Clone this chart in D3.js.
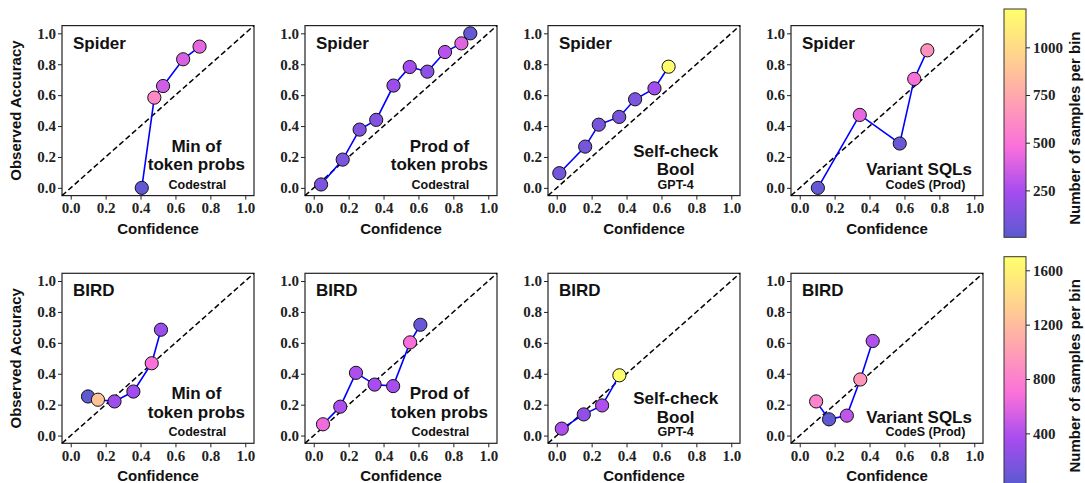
<!DOCTYPE html>
<html>
<head>
<meta charset="utf-8">
<script src="https://cdn.jsdelivr.net/npm/d3@7"></script>
<style>
  body { margin: 0; background: #fff; }
  .tick text { font-family: "Liberation Serif", serif; font-weight: bold; font-size: 15px; fill: #222; }
  .lbl { font-family: "Liberation Sans", Arial, sans-serif; font-weight: bold; fill: #111; }
</style>
</head>
<body>
<div id="chart"></div>
<script>
// ---- data ----
const rowNames = ["Spider", "BIRD"];
const methodNames = [["Min of", "token probs"], ["Prod of", "token probs"], ["Self-check", "Bool"], ["Variant SQLs"]];
const modelNames = ["Codestral", "Codestral", "GPT-4", "CodeS (Prod)"];

// confidence (x), observed accuracy (y), samples per bin — row 0 = Spider, row 1 = BIRD
const confidence = [
    [[0.407, 0.479, 0.529, 0.644, 0.738],
     [0.042, 0.166, 0.263, 0.358, 0.457, 0.55, 0.651, 0.752, 0.846, 0.897],
     [0.015, 0.163, 0.241, 0.358, 0.449, 0.56, 0.641],
     [0.104, 0.344, 0.573, 0.656, 0.731]],
    [[0.099, 0.156, 0.251, 0.359, 0.464, 0.517],
     [0.053, 0.152, 0.242, 0.349, 0.455, 0.552, 0.611],
     [0.029, 0.155, 0.26, 0.359],
     [0.094, 0.168, 0.27, 0.347, 0.418]]
];
const accuracy = [
    [[0.0, 0.584, 0.659, 0.832, 0.914],
     [0.022, 0.183, 0.377, 0.44, 0.662, 0.782, 0.752, 0.879, 0.935, 1.0],
     [0.095, 0.267, 0.409, 0.459, 0.573, 0.644, 0.784],
     [0.0, 0.472, 0.287, 0.705, 0.89]],
    [[0.253, 0.232, 0.221, 0.285, 0.468, 0.685],
     [0.073, 0.187, 0.406, 0.33, 0.32, 0.603, 0.717],
     [0.045, 0.137, 0.195, 0.39],
     [0.221, 0.105, 0.129, 0.363, 0.612]]
];
const counts = [
    [[30, 600, 360, 380, 420],
     [110, 110, 120, 130, 210, 240, 160, 290, 400, 40],
     [90, 90, 90, 100, 110, 230, 1190],
     [40, 430, 50, 480, 640]],
    [[40, 1250, 330, 330, 700, 300],
     [650, 380, 380, 360, 360, 680, 90],
     [380, 260, 380, 1690],
     [820, 50, 450, 950, 400]]
];
const countRange = [[4, 1201], [20, 1700]];
const colorbarTicks = [[250, 500, 750, 1000], [400, 800, 1200, 1600]];
const axisTicks = [0, 0.2, 0.4, 0.6, 0.8, 1.0];

// colormap stops (blue -> purple -> magenta -> pink -> peach -> yellow)
const cmapStops = ["#5a5ad0", "#a64cf0", "#fb70da", "#ffa2b0", "#ffd48c", "#ffff6a"];

// ---- layout ----
const W = 1085, H = 483;
const panel = {left: 62, step: 243, top: 25.6, rowStep: 247.7, width: 192, height: 170};
const cbar = {x: 1004, width: 22, top: 9, height: 228.3};
// annotation centres (fraction of panel width) and baseline of the last method line
const methodX = [0.70, 0.70, 0.665, 0.667];
const modelX = [0.705, 0.705, 0.665, 0.70];
const methodBase = [144.5, 144.5, 149.5, 149.5];

const svg = d3.select("#chart").append("svg")
    .attr("width", W)
    .attr("height", H);

const interp = d3.piecewise(d3.interpolateRgb, cmapStops);

rowNames.forEach((rowName, r) => {
    let color = d3.scaleSequential(interp).domain(countRange[r]);
    let top = panel.top + r * panel.rowStep;

    methodNames.forEach((method, c) => {
        let left = panel.left + c * panel.step;
        let g = svg.append("g").attr("transform", `translate(${left},${top})`);

        let x = d3.scaleLinear().domain([-0.05, 1.05]).range([0, panel.width]);
        let y = d3.scaleLinear().domain([-0.05, 1.05]).range([panel.height, 0]);

        // axes
        g.append("g")
            .attr("transform", `translate(0,${panel.height})`)
            .call(d3.axisBottom(x).tickValues(axisTicks).tickFormat(d3.format(".1f")).tickSize(4).tickPadding(3))
            .call(a => a.select(".domain").remove());
        g.append("g")
            .call(d3.axisLeft(y).tickValues(axisTicks).tickFormat(d3.format(".1f")).tickSize(4).tickPadding(2))
            .call(a => a.select(".domain").remove());
        g.selectAll(".tick line").attr("stroke", "#222");

        // frame
        g.append("rect")
            .attr("width", panel.width)
            .attr("height", panel.height)
            .attr("fill", "none")
            .attr("stroke", "#222")
            .attr("stroke-width", 1.2);

        // perfect calibration diagonal
        g.append("line")
            .attr("x1", x(-0.05)).attr("y1", y(-0.05))
            .attr("x2", x(1.05)).attr("y2", y(1.05))
            .attr("stroke", "#000")
            .attr("stroke-width", 1.5)
            .attr("stroke-dasharray", "5.5,3");

        let pts = confidence[r][c].map((v, i) => ({x: v, y: accuracy[r][c][i], n: counts[r][c][i]}));

        g.append("path")
            .datum(pts)
            .attr("fill", "none")
            .attr("stroke", "#0000ff")
            .attr("stroke-width", 1.6)
            .attr("d", d3.line().x(d => x(d.x)).y(d => y(d.y)));

        g.selectAll("circle")
            .data(pts)
            .enter()
            .append("circle")
            .attr("cx", d => x(d.x))
            .attr("cy", d => y(d.y))
            .attr("r", 6.6)
            .attr("fill", d => color(d.n))
            .attr("stroke", "#111")
            .attr("stroke-width", 1);

        // dataset name
        g.append("text")
            .attr("class", "lbl")
            .attr("x", 11)
            .attr("y", 23)
            .style("font-size", "17px")
            .text(rowName);

        // method + model annotation
        let mx = panel.width * methodX[c];
        let lines = method.length;
        method.forEach((line, i) => {
            g.append("text")
                .attr("class", "lbl")
                .attr("x", mx)
                .attr("y", methodBase[c] - (lines - 1 - i) * 18.5)
                .attr("text-anchor", "middle")
                .style("font-size", "17px")
                .text(line);
        });
        g.append("text")
            .attr("class", "lbl")
            .attr("x", panel.width * modelX[c])
            .attr("y", 163)
            .attr("text-anchor", "middle")
            .style("font-size", "12.5px")
            .text(modelNames[c]);

        // axis labels
        g.append("text")
            .attr("class", "lbl")
            .attr("x", panel.width / 2)
            .attr("y", 208)
            .attr("text-anchor", "middle")
            .style("font-size", "15px")
            .text("Confidence");

        if (c === 0) {
            g.append("text")
                .attr("class", "lbl")
                .attr("transform", `translate(${21 - left},${panel.height / 2}) rotate(-90)`)
                .attr("text-anchor", "middle")
                .style("font-size", "15px")
                .text("Observed Accuracy");
        }
    });

    // colorbar
    let cbTop = cbar.top + r * panel.rowStep;
    let gradId = "grad" + r;
    let grad = svg.append("defs").append("linearGradient")
        .attr("id", gradId)
        .attr("x1", 0).attr("y1", 1).attr("x2", 0).attr("y2", 0);
    d3.range(0, 1.0001, 0.05).forEach(t => {
        grad.append("stop")
            .attr("offset", t)
            .attr("stop-color", interp(t));
    });

    let cb = svg.append("g").attr("transform", `translate(${cbar.x},${cbTop})`);
    cb.append("rect")
        .attr("width", cbar.width)
        .attr("height", cbar.height)
        .attr("fill", `url(#${gradId})`)
        .attr("stroke", "#333")
        .attr("stroke-width", 1);

    let cy = d3.scaleLinear().domain(countRange[r]).range([cbar.height, 0]);
    cb.append("g")
        .attr("transform", `translate(${cbar.width},0)`)
        .call(d3.axisRight(cy).tickValues(colorbarTicks[r]).tickFormat(d3.format("d")).tickSize(4).tickPadding(3))
        .call(a => a.select(".domain").remove())
        .selectAll(".tick line").attr("stroke", "#222");

    cb.append("text")
        .attr("class", "lbl")
        .attr("transform", `translate(${1075 - cbar.x},${(237.3 - cbar.top) / 2 + 5}) rotate(-90)`)
        .attr("text-anchor", "middle")
        .attr("dy", "0.35em")
        .style("font-size", "15px")
        .text("Number of samples per bin");
});
</script>
</body>
</html>
